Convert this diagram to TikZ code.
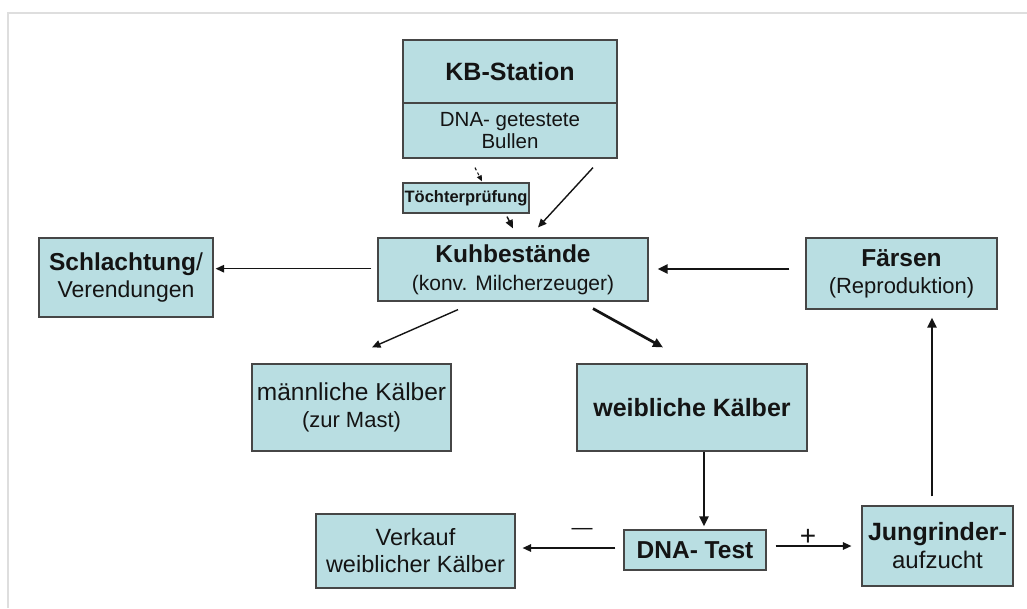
\documentclass[tikz,border=0pt]{standalone}
\usepackage{fontspec}
\setmainfont{Liberation Sans}
\usetikzlibrary{arrows.meta}
\definecolor{boxfill}{RGB}{185,222,226}
\definecolor{boxdraw}{RGB}{70,70,70}
\definecolor{framegray}{RGB}{222,222,222}
\definecolor{ink}{RGB}{20,20,20}
\newcommand\myfs[2]{\fontsize{#1}{#2}\selectfont}
\tikzset{
  box/.style={draw=boxdraw, fill=boxfill, line width=1.2pt, inner sep=0pt, align=center, text=ink},
  thinarrow/.style={draw=ink, line width=1.4pt, -{Triangle[length=8.5pt,width=7.5pt]}},
  thickarrow/.style={draw=ink, line width=2.7pt, -{Triangle[length=10pt,width=9pt]}},
  dasharrow/.style={draw=ink, line width=1.1pt, dash pattern=on 3pt off 2.5pt, -{Triangle[length=6pt,width=5pt]}},
  sign/.style={text=ink, inner sep=0pt},
}
\begin{document}
\begin{tikzpicture}[x=1pt,y=-1pt]
\useasboundingbox (0,0) rectangle (1027,608);
\fill[white] (0,0) rectangle (1027,608);
% faint frame
\draw[framegray, line width=1.5pt] (8,608) -- (8,13) -- (1027,13);

% boxes
\node[box, minimum width=214pt, minimum height=63pt, font=\myfs{25}{28}\bfseries] (kb1) at (510,71.5)
  {KB-Station};
\node[box, minimum width=214pt, minimum height=55pt, font=\myfs{20.5}{22}] (kb2) at (510,130.5)
  {DNA- getestete\\Bullen};
\node[box, minimum width=126pt, minimum height=30pt, font=\myfs{16.5}{18}\bfseries] (toe) at (466,198)
  {Töchterprüfung};
\node[box, minimum width=270pt, minimum height=63pt, font=\myfs{21}{28}] (kuh) at (513,269.5)
  {{\myfs{24.5}{28}\bfseries Kuhbestände}\\(konv. Milcherzeuger)};
\node[box, minimum width=174pt, minimum height=79pt, font=\myfs{23}{27}] (sch) at (126,277.5)
  {{\myfs{24.5}{27}\bfseries Schlachtung}{\myfs{24.5}{27}/}\\Verendungen};
\node[box, minimum width=191pt, minimum height=71pt, font=\myfs{22}{27}] (far) at (901.5,273.5)
  {{\myfs{24.5}{27}\bfseries Färsen}\\(Reproduktion)};
\node[box, minimum width=199pt, minimum height=87pt, font=\myfs{22}{27}] (mk) at (351.5,407.5)
  {{\myfs{24.5}{27}männliche Kälber}\\(zur Mast)};
\node[box, minimum width=230pt, minimum height=87pt, font=\myfs{25}{28}\bfseries] (wk) at (692,407.5)
  {weibliche Kälber};
\node[box, minimum width=142pt, minimum height=40pt, font=\myfs{24.5}{28}\bfseries] (dna) at (695,550)
  {DNA- Test};
\node[box, minimum width=199pt, minimum height=74pt, font=\myfs{23.5}{27}] (vk) at (415.5,551)
  {Verkauf\\weiblicher Kälber};
\node[box, minimum width=151pt, minimum height=80pt, font=\myfs{24}{28}] (jr) at (937.5,546)
  {{\myfs{25}{28}\bfseries Jungrinder-}\\aufzucht};

% connectors
\draw[dasharrow] ([xshift=-35pt,yshift=-9pt]kb2.south) -- ([xshift=16pt,yshift=1pt]toe.north);
\draw[thinarrow] ([xshift=41pt,yshift=-3pt]toe.south) -- ([yshift=9pt]kuh.north);
\draw[thinarrow] ([xshift=83pt,yshift=-9pt]kb2.south) -- ([xshift=25pt,yshift=10pt]kuh.north);
\draw[thinarrow] ([xshift=-6pt,yshift=0.8pt]kuh.west) -- ([xshift=2pt,yshift=8.8pt]sch.east);
\draw[thickarrow] ([xshift=-16pt,yshift=4.5pt]far.west) -- ([xshift=9pt,yshift=0.5pt]kuh.east);
\draw[thinarrow] ([xshift=-55pt,yshift=-8pt]kuh.south) -- ([xshift=20.5pt,yshift=16pt]mk.north);
\draw[thickarrow] ([xshift=80pt,yshift=-7pt]kuh.south) -- ([xshift=-29pt,yshift=16pt]wk.north);
\draw[thickarrow, line width=2.2pt] ([xshift=12pt]wk.south) -- ([xshift=9pt,yshift=3pt]dna.north);
\draw[thinarrow] ([xshift=-8pt,yshift=2pt]dna.west) -- ([xshift=7pt,yshift=3pt]vk.east);
\draw[thinarrow] ([xshift=9pt,yshift=4pt]dna.east) -- ([xshift=-10pt]jr.west);
\draw[thickarrow] ([xshift=-5.5pt,yshift=9pt]jr.north) -- ([xshift=30.5pt,yshift=-8pt]far.south);

% signs
\node[sign, font=\myfs{21}{24}] (minus) at (582,531) {—};
\node[sign, font=\myfs{28}{30}] (plus) at (808,537) {+};
\end{tikzpicture}
\end{document}
